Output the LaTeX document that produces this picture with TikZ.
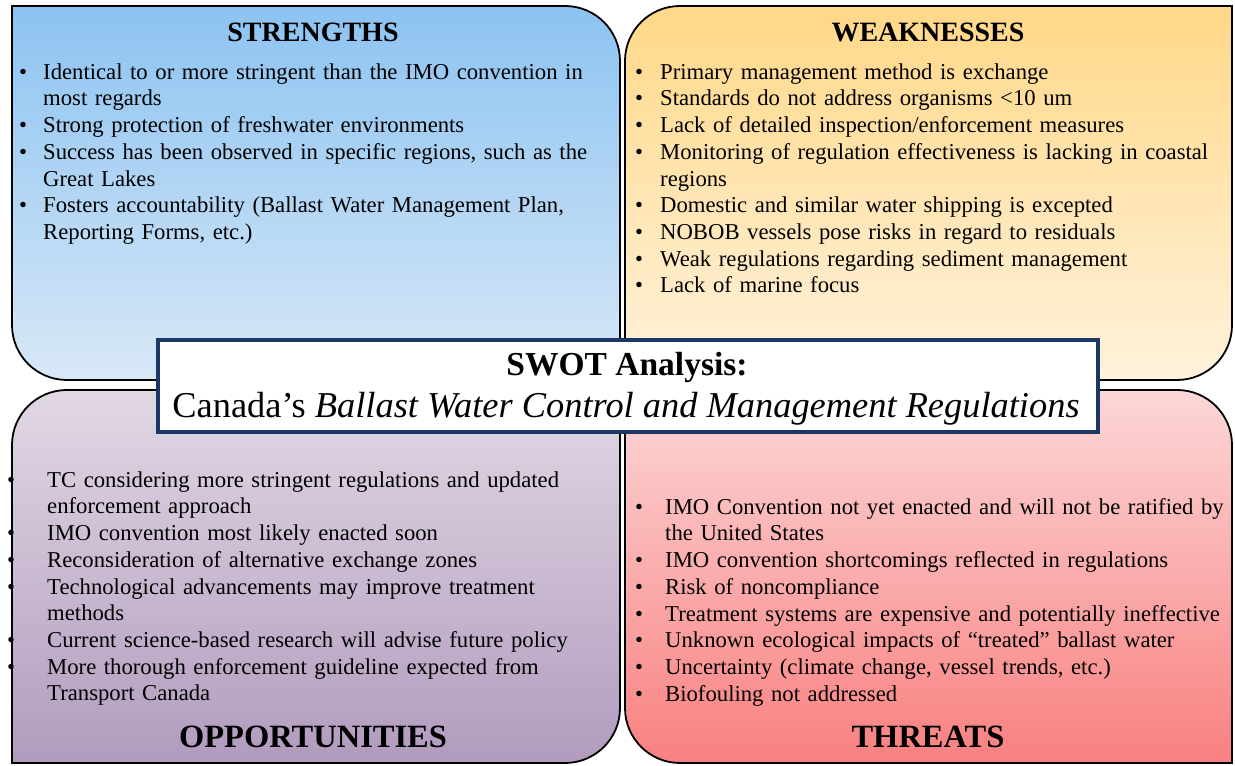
\documentclass[tikz,border=0pt]{standalone}
\usepackage{fontspec}
\setmainfont{Liberation Serif}
\definecolor{sTop}{HTML}{8CC3F1}
\definecolor{sBot}{HTML}{D8E8F7}
\definecolor{wTop}{HTML}{FFD888}
\definecolor{wBot}{HTML}{FFF2DC}
\definecolor{oTop}{HTML}{E1D8E4}
\definecolor{oBot}{HTML}{B19BBE}
\definecolor{tTop}{HTML}{FCD7D7}
\definecolor{tBot}{HTML}{F98080}
\definecolor{navy}{HTML}{1C3766}
\newlength\bulind
\newcommand{\bitem}[1]{\par\noindent\hangindent=\bulind\hangafter=1\makebox[\bulind][l]{\textbullet}\strut#1\par}
\begin{document}
\begin{tikzpicture}[x=1pt,y=1pt,
  panel/.style={draw=black, line width=1.8pt},
  head/.style={inner sep=0pt, font=\fontsize{28}{32}\selectfont\bfseries},
  bighead/.style={head, font=\fontsize{32.5}{36}\selectfont\bfseries},
  blist/.style={anchor=north west, inner sep=0pt, text width=600pt,
                font=\fontsize{22.7}{26.7}\selectfont},
]
\useasboundingbox (0,0) rectangle (1235,766);
\fill[white] (0,0) rectangle (1235,766);

% four quadrant panels with two opposite rounded corners each
\shadedraw[panel, top color=sTop, bottom color=sBot]
  (12,760) -- (565,760) .. controls (595.4,760) and (620,735.4) .. (620,705)
  -- (620,386) -- (67,386) .. controls (36.6,386) and (12,410.6) .. (12,441) -- cycle;
\shadedraw[panel, top color=wTop, bottom color=wBot]
  (625,705) .. controls (625,735.4) and (649.6,760) .. (680,760) -- (1232,760)
  -- (1232,441) .. controls (1232,410.6) and (1207.4,386) .. (1177,386) -- (625,386) -- cycle;
\shadedraw[panel, top color=oTop, bottom color=oBot]
  (12,321) .. controls (12,351.4) and (36.6,376) .. (67,376) -- (620,376)
  -- (620,58) .. controls (620,27.6) and (595.4,3) .. (565,3) -- (12,3) -- cycle;
\shadedraw[panel, top color=tTop, bottom color=tBot]
  (625,376) -- (1177,376) .. controls (1207.4,376) and (1232,351.4) .. (1232,321)
  -- (1232,3) -- (680,3) .. controls (649.6,3) and (625,27.6) .. (625,58) -- cycle;

% headings
\node[head] (hS) at (313,734) {STRENGTHS};
\node[head] (hW) at (928,734) {WEAKNESSES};
\node[bighead] (hO) at (313,29) {OPPORTUNITIES};
\node[bighead] (hT) at (928,29) {THREATS};

% bullet lists
\node[blist] (lS) at (19,713.6) {\raggedright\setlength\bulind{24pt}%
  \bitem{Identical to or more stringent than the IMO convention in\newline most regards}
  \bitem{Strong protection of freshwater environments}
  \bitem{Success has been observed in specific regions, such as the\newline Great Lakes}
  \bitem{Fosters accountability (Ballast Water Management Plan,\newline Reporting Forms, etc.)}};

\node[blist] (lW) at (635,713.6) {\raggedright\setlength\bulind{25pt}%
  \bitem{Primary management method is exchange}
  \bitem{Standards do not address organisms <10 um}
  \bitem{Lack of detailed inspection/enforcement measures}
  \bitem{Monitoring of regulation effectiveness is lacking in coastal\newline regions}
  \bitem{Domestic and similar water shipping is excepted}
  \bitem{NOBOB vessels pose risks in regard to residuals}
  \bitem{Weak regulations regarding sediment management}
  \bitem{Lack of marine focus}};

\node[blist] (lO) at (7,305.6) {\raggedright\setlength\bulind{40pt}%
  \bitem{TC considering more stringent regulations and updated\newline enforcement approach}
  \bitem{IMO convention most likely enacted soon}
  \bitem{Reconsideration of alternative exchange zones}
  \bitem{Technological advancements may improve treatment\newline methods}
  \bitem{Current science-based research will advise future policy}
  \bitem{More thorough enforcement guideline expected from\newline Transport Canada}};

\node[blist] (lT) at (635,278.6) {\raggedright\setlength\bulind{30pt}%
  \bitem{IMO Convention not yet enacted and will not be ratified by\newline the United States}
  \bitem{IMO convention shortcomings reflected in regulations}
  \bitem{Risk of noncompliance}
  \bitem{Treatment systems are expensive and potentially ineffective}
  \bitem{Unknown ecological impacts of “treated” ballast water}
  \bitem{Uncertainty (climate change, vessel trends, etc.)}
  \bitem{Biofouling not addressed}};

% central title box
\node[draw=navy, line width=4pt, fill=white, minimum width=940pt, minimum height=92pt,
      inner sep=0pt] (swot) at (628,380) {};
\node[inner sep=0pt, font=\fontsize{33.5}{36}\selectfont\bfseries] (t1) at (627,399) {SWOT Analysis:};
\node[inner sep=0pt, font=\fontsize{36.4}{38}\selectfont] (t2) at (626,357)
  {Canada’s \textit{Ballast Water Control and Management Regulations}};
\end{tikzpicture}
\end{document}
